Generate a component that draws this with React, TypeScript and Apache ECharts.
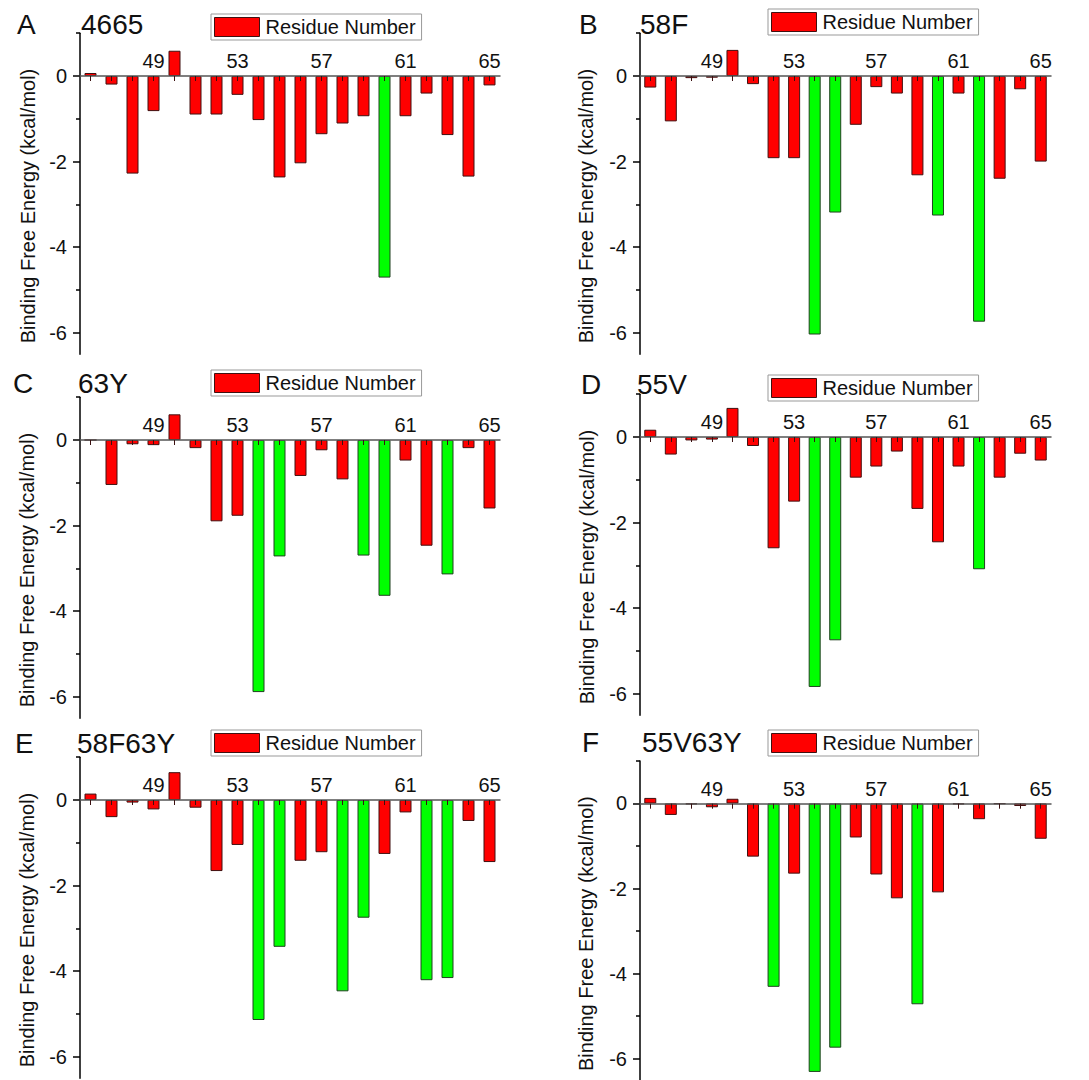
import React, { useEffect, useRef } from "react";
import * as echarts from "echarts";

const residues = ["46","47","48","49","50","51","52","53","54","55","56","57","58","59","60","61","62","63","64","65"];
const yLabelValues = [-6, -4, -2, 0];
const yMinorValues = [-5, -3, -1, 1];
const legendName = "Residue Number";
const axisTitle = "Binding Free Energy (kcal/mol)";

const energyA = [0.07, -0.20, -2.28, -0.82, 0.59, -0.90, -0.90, -0.44, -1.03, -2.37, -2.04, -1.36, -1.11, -0.94, -4.71, -0.94, -0.41, -1.38, -2.35, -0.22];
const energyB = [-0.27, -1.06, -0.05, -0.04, 0.61, -0.19, -1.92, -1.92, -6.04, -3.19, -1.14, -0.26, -0.41, -2.32, -3.26, -0.41, -5.74, -2.40, -0.31, -2.00];
const energyC = [0, -1.05, -0.10, -0.12, 0.60, -0.19, -1.90, -1.77, -5.89, -2.72, -0.84, -0.24, -0.92, -2.70, -3.64, -0.48, -2.47, -3.14, -0.19, -1.60];
const energyD = [0.17, -0.41, -0.08, -0.06, 0.68, -0.21, -2.60, -1.51, -5.84, -4.75, -0.95, -0.69, -0.34, -1.68, -2.46, -0.69, -3.09, -0.95, -0.39, -0.55];
const energyE = [0.15, -0.40, -0.06, -0.22, 0.65, -0.18, -1.66, -1.05, -5.14, -3.43, -1.42, -1.22, -4.47, -2.75, -1.26, -0.29, -4.21, -4.16, -0.49, -1.45];
const energyF = [0.13, -0.27, -0.02, -0.09, 0.11, -1.25, -4.31, -1.65, -6.31, -5.74, -0.80, -1.67, -2.23, -4.72, -2.09, -0.02, -0.37, -0.01, -0.06, -0.83];

const hotA = ["60"];
const hotB = ["54", "55", "60", "62"];
const hotC = ["54", "55", "59", "60", "63"];
const hotD = ["54", "55", "62"];
const hotE = ["54", "55", "58", "59", "62", "63"];
const hotF = ["52", "54", "55", "59"];

const panelLetters = ["A", "B", "C", "D", "E", "F"];
const panelNames = ["4665", "58F", "63Y", "55V", "58F63Y", "55V63Y"];
const panelValues = [energyA, energyB, energyC, energyD, energyE, energyF];
const panelHot = [hotA, hotB, hotC, hotD, hotE, hotF];

// layout (pixels)
const UNIT = 42.8;
const Y_MIN = -6.5;
const Y_MAX = 1;
const layout = [
  { left: 80, width: 420, zero: 76, letterX: 17, nameX: 81, textY: 24.5, legX: 211, legY: 14, titleX: 28 },
  { left: 640, width: 411, zero: 76, letterX: 579, nameX: 640, textY: 24, legX: 768, legY: 9, titleX: 586 },
  { left: 80, width: 420, zero: 440, letterX: 13, nameX: 78, textY: 383.5, legX: 211, legY: 370, titleX: 27 },
  { left: 640, width: 411, zero: 437, letterX: 581, nameX: 637, textY: 384, legX: 768, legY: 375, titleX: 587 },
  { left: 80, width: 420, zero: 800, letterX: 15, nameX: 77, textY: 743.5, legX: 211, legY: 730, titleX: 27 },
  { left: 640, width: 411, zero: 803.7, letterX: 582, nameX: 642, textY: 742, legX: 768, legY: 730, titleX: 586 },
];

const FONT = "'Liberation Sans', Arial, sans-serif";
const RED = "#ff0000";
const GREEN = "#00ff00";

function buildOption() {
  const grid: any[] = [];
  const xAxis: any[] = [];
  const yAxis: any[] = [];
  const series: any[] = [];
  const legend: any[] = [];
  const graphic: any[] = [];

  layout.forEach((L, i) => {
    grid.push({
      left: L.left,
      width: L.width,
      top: L.zero - Y_MAX * UNIT,
      height: (Y_MAX - Y_MIN) * UNIT,
      containLabel: false,
    });
    xAxis.push({
      type: "category",
      gridIndex: i,
      data: residues,
      position: "top",
      offset: -Y_MAX * UNIT,
      boundaryGap: true,
      axisLine: { show: true, onZero: false, lineStyle: { color: "#555", width: 1.5 } },
      axisTick: { show: true, inside: true, alignWithLabel: true, interval: 0, length: 5, lineStyle: { color: "#3a1010", width: 1 } },
      axisLabel: {
        inside: false,
        margin: 5,
        interval: (idx: number) => idx >= 3 && (idx - 3) % 4 === 0,
        fontSize: 20,
        fontFamily: FONT,
        color: "#111",
      },
      splitLine: { show: false },
      z: 3,
    });
    yAxis.push({
      type: "value",
      gridIndex: i,
      min: Y_MIN,
      max: Y_MAX,
      position: "left",
      axisLine: { show: true, onZero: false, lineStyle: { color: "#000", width: 1.5 } },
      axisTick: { show: true, length: 7, customValues: yLabelValues, lineStyle: { color: "#000", width: 1.5 } },
      axisLabel: { show: true, customValues: yLabelValues, margin: 13, fontSize: 20, fontFamily: FONT, color: "#111" },
      splitLine: { show: false },
    });
    yAxis.push({
      type: "value",
      gridIndex: i,
      min: Y_MIN,
      max: Y_MAX,
      position: "left",
      axisLine: { show: false, onZero: false },
      axisTick: { show: true, length: 4, customValues: yMinorValues, lineStyle: { color: "#000", width: 1.5 } },
      axisLabel: { show: false },
      splitLine: { show: false },
    });
    const hot = panelHot[i];
    series.push({
      type: "bar",
      name: legendName,
      xAxisIndex: i,
      yAxisIndex: 2 * i,
      barWidth: 12,
      itemStyle: { color: RED, borderColor: "#401010", borderWidth: 1 },
      data: panelValues[i].map((v, j) =>
        hot.includes(residues[j])
          ? { value: v, itemStyle: { color: GREEN, borderColor: "#204020", borderWidth: 1 } }
          : v
      ),
    });
    legend.push({
      data: [legendName],
      left: L.legX,
      top: L.legY,
      icon: "rect",
      itemWidth: 45,
      itemHeight: 19,
      padding: [3, 6, 3, 3],
      borderColor: "#999",
      borderWidth: 1,
      selectedMode: false,
      itemStyle: { color: RED, borderColor: "#401010", borderWidth: 1 },
      textStyle: { fontSize: 20, fontFamily: FONT, color: "#111", lineHeight: 19, padding: [0, 0, 0, 1] },
    });
    graphic.push({
      type: "text",
      x: L.letterX,
      y: L.textY,
      style: { text: panelLetters[i], fontSize: 28, fontFamily: FONT, fill: "#111", align: "left", verticalAlign: "middle" },
    });
    graphic.push({
      type: "text",
      x: L.nameX,
      y: L.textY,
      style: { text: panelNames[i], fontSize: 28, fontFamily: FONT, fill: "#111", align: "left", verticalAlign: "middle" },
    });
    graphic.push({
      type: "text",
      x: L.titleX,
      y: L.zero + 130,
      rotation: Math.PI / 2,
      style: { text: axisTitle, fontSize: 20, fontFamily: FONT, fill: "#111", align: "center", verticalAlign: "middle" },
    });
  });

  return {
    animation: false,
    backgroundColor: "#ffffff",
    grid,
    xAxis,
    yAxis,
    series,
    legend,
    graphic,
  };
}

export default function App() {
  const ref = useRef<HTMLDivElement>(null);
  useEffect(() => {
    if (!ref.current) return;
    const chart = echarts.init(ref.current, undefined, { renderer: "svg" });
    chart.setOption(buildOption() as any);
    return () => chart.dispose();
  }, []);
  return (
    <div
      ref={ref}
      style={{ position: "absolute", left: 0, top: 0, width: 1089, height: 1080, background: "#fff" }}
    />
  );
}
